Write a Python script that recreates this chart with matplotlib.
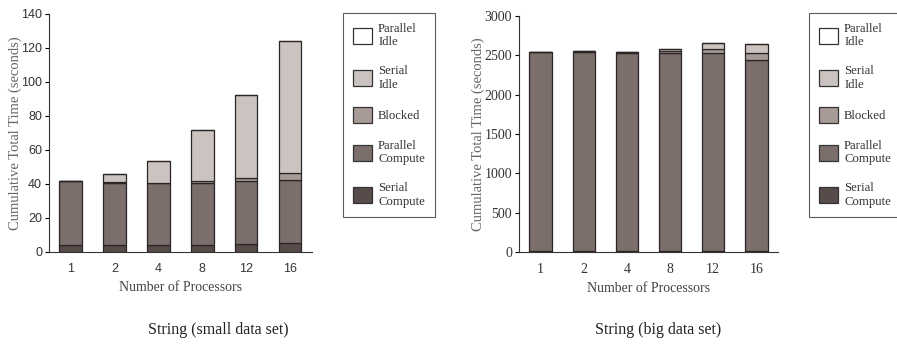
import numpy as np
import matplotlib
matplotlib.use('Agg')
import matplotlib.pyplot as plt
from matplotlib.patches import Patch

processors = ['1', '2', '4', '8', '12', '16']
series = ['Serial\nCompute', 'Parallel\nCompute', 'Blocked', 'Serial\nIdle', 'Parallel\nIdle']
colors = ['#574c4a', '#7b6e6b', '#a89a96', '#cbc3c0', '#ffffff']

# small data set (seconds, per category)
small_serial_compute = [4.3, 4.3, 4.2, 4.2, 4.5, 5.2]
small_parallel_compute = [37.2, 36.2, 36.1, 36.3, 37.0, 37.3]
small_blocked = [0.0, 0.8, 0.3, 1.0, 2.0, 4.1]
small_serial_idle = [0.0, 4.7, 12.7, 30.0, 48.5, 77.4]
small_parallel_idle = [0.0, 0.0, 0.0, 0.0, 0.0, 0.0]

# big data set
big_serial_compute = [10, 10, 10, 10, 10, 10]
big_parallel_compute = [2535, 2525, 2520, 2520, 2520, 2425]
big_blocked = [0, 22, 15, 20, 50, 95]
big_serial_idle = [0, 0, 0, 30, 70, 110]
big_parallel_idle = [0, 0, 0, 0, 0, 0]

serif = ['Liberation Serif', 'DejaVu Serif']
sans = ['Liberation Sans', 'DejaVu Sans']

fig = plt.figure(figsize=(8.97, 3.46), dpi=100)
ax1 = fig.add_axes([0.0546, 0.272, 0.293, 0.688])
ax2 = fig.add_axes([0.5786, 0.272, 0.2887, 0.682])


def stacked(ax, layers, ymax, step, tick_family, tick_size, ylabel_x):
    x = np.arange(len(processors))
    bottom = np.zeros(len(processors))
    for vals, c in zip(layers, colors):
        vals = np.array(vals, dtype=float)
        ax.bar(x, vals, 0.52, bottom=bottom, color=c, edgecolor='#2b2626', linewidth=0.9)
        bottom += vals
    ax.set_xlim(-0.5, 5.5)
    ax.set_ylim(0, ymax)
    ax.set_xticks(x)
    ax.set_xticklabels(processors)
    ax.set_yticks(np.arange(0, ymax + 1, step))
    for s in ['top', 'right']:
        ax.spines[s].set_visible(False)
    for s in ['left', 'bottom']:
        ax.spines[s].set_linewidth(0.8)
        ax.spines[s].set_color('#333333')
    ax.tick_params(axis='x', length=0, pad=8, labelsize=tick_size)
    ax.tick_params(axis='y', length=3, width=0.8, pad=2, labelsize=tick_size)
    for lab in ax.get_xticklabels() + ax.get_yticklabels():
        lab.set_family(tick_family)
        lab.set_color('#333333')
    ax.set_xlabel('Number of Processors', family=serif, fontsize=10, color='#444444', labelpad=4)
    ax.set_ylabel('Cumulative Total Time (seconds)', family=serif, fontsize=10.5, color='#666666')
    ax.yaxis.set_label_coords(ylabel_x, 0.5)


stacked(ax1, [small_serial_compute, small_parallel_compute, small_blocked,
              small_serial_idle, small_parallel_idle], 140, 20, sans, 9, -0.103)
stacked(ax2, [big_serial_compute, big_parallel_compute, big_blocked,
              big_serial_idle, big_parallel_idle], 3000, 500, serif, 10, -0.131)

handles = [Patch(facecolor=c, edgecolor='#333333', linewidth=0.9) for c in colors][::-1]
labels = series[::-1]
for anchor in [(343 / 897, 1 - 13 / 346), (809 / 897, 1 - 13 / 346)]:
    leg = fig.legend(handles, labels, loc='upper left', bbox_to_anchor=anchor,
                     prop={'family': serif, 'size': 9.2}, frameon=True, fancybox=False,
                     edgecolor='#333333', handlelength=1.5, handleheight=1.5,
                     labelspacing=1.3, borderpad=0.75, handletextpad=0.5,
                     borderaxespad=0)
    leg.get_frame().set_linewidth(0.8)
    for t in leg.get_texts():
        t.set_color('#333333')

fig.text(218 / 897, 1 - 330 / 346, 'String (small data set)', family=serif,
         fontsize=11.5, ha='center', va='center', color='#222222')
fig.text(658 / 897, 1 - 330 / 346, 'String (big data set)', family=serif,
         fontsize=11.5, ha='center', va='center', color='#222222')

fig.savefig('out.png', dpi=100)
